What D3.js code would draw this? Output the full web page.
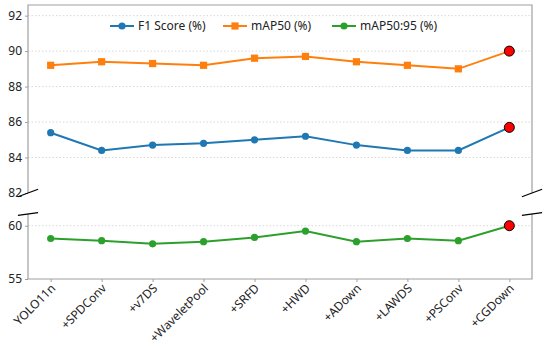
<!DOCTYPE html>
<html>
<head>
<meta charset="utf-8">
<script src="https://cdn.jsdelivr.net/npm/d3@7"></script>
<style>
  body { margin: 0; background: #fff; }
  text { font-family: "Noto Sans", "Open Sans", sans-serif; fill: #222; }
</style>
</head>
<body>
<div id="chart"></div>
<script>
// chart values
var models = ["YOLO11n", "+SPDConv", "+v7DS", "+WaveletPool", "+SRFD", "+HWD", "+ADown", "+LAWDS", "+PSConv", "+CGDown"];
var f1Score = [85.4, 84.4, 84.7, 84.8, 85.0, 85.2, 84.7, 84.4, 84.4, 85.7];
var map50 = [89.2, 89.4, 89.3, 89.2, 89.6, 89.7, 89.4, 89.2, 89.0, 90.0];
var map5095 = [58.8, 58.6, 58.3, 58.5, 58.9, 59.5, 58.5, 58.8, 58.6, 60.0];
var topTicks = [82, 84, 86, 88, 90, 92];
var bottomTicks = [55, 60];
var seriesNames = ["F1 Score (%)", "mAP50 (%)", "mAP50:95 (%)"];

function makeChart() {
  var svgWidth = 550, svgHeight = 347;
  var left = 28, right = 532;
  var topY0 = 5, topY1 = 193;     // upper panel
  var botY0 = 214, botY1 = 279;   // lower panel

  var svg = d3.select("#chart").append("svg")
    .attr("width", svgWidth).attr("height", svgHeight);

  var x = d3.scalePoint().domain(models).range([left, right]).padding(0.445);
  var yTop = d3.scaleLinear().domain([82, 92.6]).range([topY1, topY0]);
  var yBot = d3.scaleLinear().domain([55, 61.1]).range([botY1, botY0]);

  var spineColor = "#a0a0a0";

  // grid lines
  svg.append("g").selectAll("line").data(topTicks.slice(1)).enter().append("line")
    .attr("x1", left).attr("x2", right)
    .attr("y1", d => yTop(d)).attr("y2", d => yTop(d))
    .attr("stroke", "#d8d8d8").attr("stroke-dasharray", "1.5,2");
  svg.append("g").selectAll("line").data(bottomTicks.slice(1)).enter().append("line")
    .attr("x1", left).attr("x2", right)
    .attr("y1", d => yBot(d)).attr("y2", d => yBot(d))
    .attr("stroke", "#d8d8d8").attr("stroke-dasharray", "1.5,2");

  // y axes
  var fmt = d3.format("d");
  var axTop = svg.append("g").attr("transform", `translate(${left},0)`)
    .call(d3.axisLeft(yTop).tickValues(topTicks).tickFormat(fmt).tickSize(3).tickPadding(3));
  var axBot = svg.append("g").attr("transform", `translate(${left},0)`)
    .call(d3.axisLeft(yBot).tickValues(bottomTicks).tickFormat(fmt).tickSize(3).tickPadding(3));
  [axTop, axBot].forEach(function(a) {
    a.select(".domain").remove();
    a.selectAll(".tick line").attr("stroke", spineColor);
    a.selectAll(".tick text").style("font-size", "12px").attr("fill", "#222");
  });

  // spines
  var sp = svg.append("g").attr("stroke", spineColor).attr("stroke-width", 1.2).attr("fill", "none");
  sp.append("path").attr("d", `M${left},${topY1}V${topY0}H${right}V${topY1}`);
  sp.append("path").attr("d", `M${left},${botY0}V${botY1}H${right}V${botY0}`);

  // x axis
  var xAxis = svg.append("g").attr("transform", `translate(0,${botY1})`)
    .call(d3.axisBottom(x).tickSize(3).tickPadding(2));
  xAxis.select(".domain").remove();
  xAxis.selectAll(".tick line").attr("stroke", spineColor);
  xAxis.selectAll(".tick text")
    .style("font-size", "12px").attr("fill", "#222")
    .attr("text-anchor", "end")
    .attr("dy", "0.35em")
    .attr("transform", "translate(2,7) rotate(-45)")
    .attr("x", 0).attr("y", 0);

  // break marks
  var dx = 0.02 * (right - left);
  var dyT = 0.02 * (topY1 - topY0), dyB = 0.02 * (botY1 - botY0);
  var bk = svg.append("g").attr("stroke", "#000").attr("stroke-width", 1.2);
  [left, right].forEach(function(xx) {
    bk.append("line").attr("x1", xx - dx).attr("x2", xx + dx)
      .attr("y1", topY1 + dyT).attr("y2", topY1 - dyT);
    bk.append("line").attr("x1", xx - dx).attr("x2", xx + dx)
      .attr("y1", botY0 + dyB).attr("y2", botY0 - dyB);
  });

  var series = [
    { values: f1Score, scale: yTop, color: "#1f77b4", shape: "circle" },
    { values: map50, scale: yTop, color: "#ff7f0e", shape: "square" },
    { values: map5095, scale: yBot, color: "#2ca02c", shape: "circle" }
  ];

  series.forEach(function(s) {
    var line = d3.line().x((d, i) => x(models[i])).y(d => s.scale(d));
    svg.append("path").datum(s.values)
      .attr("d", line).attr("fill", "none")
      .attr("stroke", s.color).attr("stroke-width", 2);
    var pts = s.values.slice(0, -1);
    if (s.shape === "circle") {
      svg.append("g").selectAll("circle").data(pts).enter().append("circle")
        .attr("cx", (d, i) => x(models[i])).attr("cy", d => s.scale(d))
        .attr("r", 3.6).attr("fill", s.color);
    } else {
      svg.append("g").selectAll("rect").data(pts).enter().append("rect")
        .attr("x", (d, i) => x(models[i]) - 3.6).attr("y", d => s.scale(d) - 3.6)
        .attr("width", 7.2).attr("height", 7.2).attr("fill", s.color);
    }
    // highlighted last point
    var last = s.values.length - 1;
    svg.append("circle")
      .attr("cx", x(models[last])).attr("cy", s.scale(s.values[last]))
      .attr("r", 5).attr("fill", "#ff0000").attr("stroke", "#000").attr("stroke-width", 1);
  });

  // legend
  var legendX = [110, 223, 332];
  var legendY = 26;
  var lg = svg.append("g");
  series.forEach(function(s, i) {
    var g = lg.append("g").attr("transform", `translate(${legendX[i]},${legendY})`);
    g.append("line").attr("x1", 0).attr("x2", 24).attr("stroke", s.color).attr("stroke-width", 2);
    if (s.shape === "circle") {
      g.append("circle").attr("cx", 12).attr("r", 3.6).attr("fill", s.color);
    } else {
      g.append("rect").attr("x", 8.4).attr("y", -3.6).attr("width", 7.2).attr("height", 7.2).attr("fill", s.color);
    }
    g.append("text").attr("x", 28).attr("dy", "0.35em")
      .style("font-size", "12px").text(seriesNames[i]);
  });
}

makeChart();
</script>
</body>
</html>
